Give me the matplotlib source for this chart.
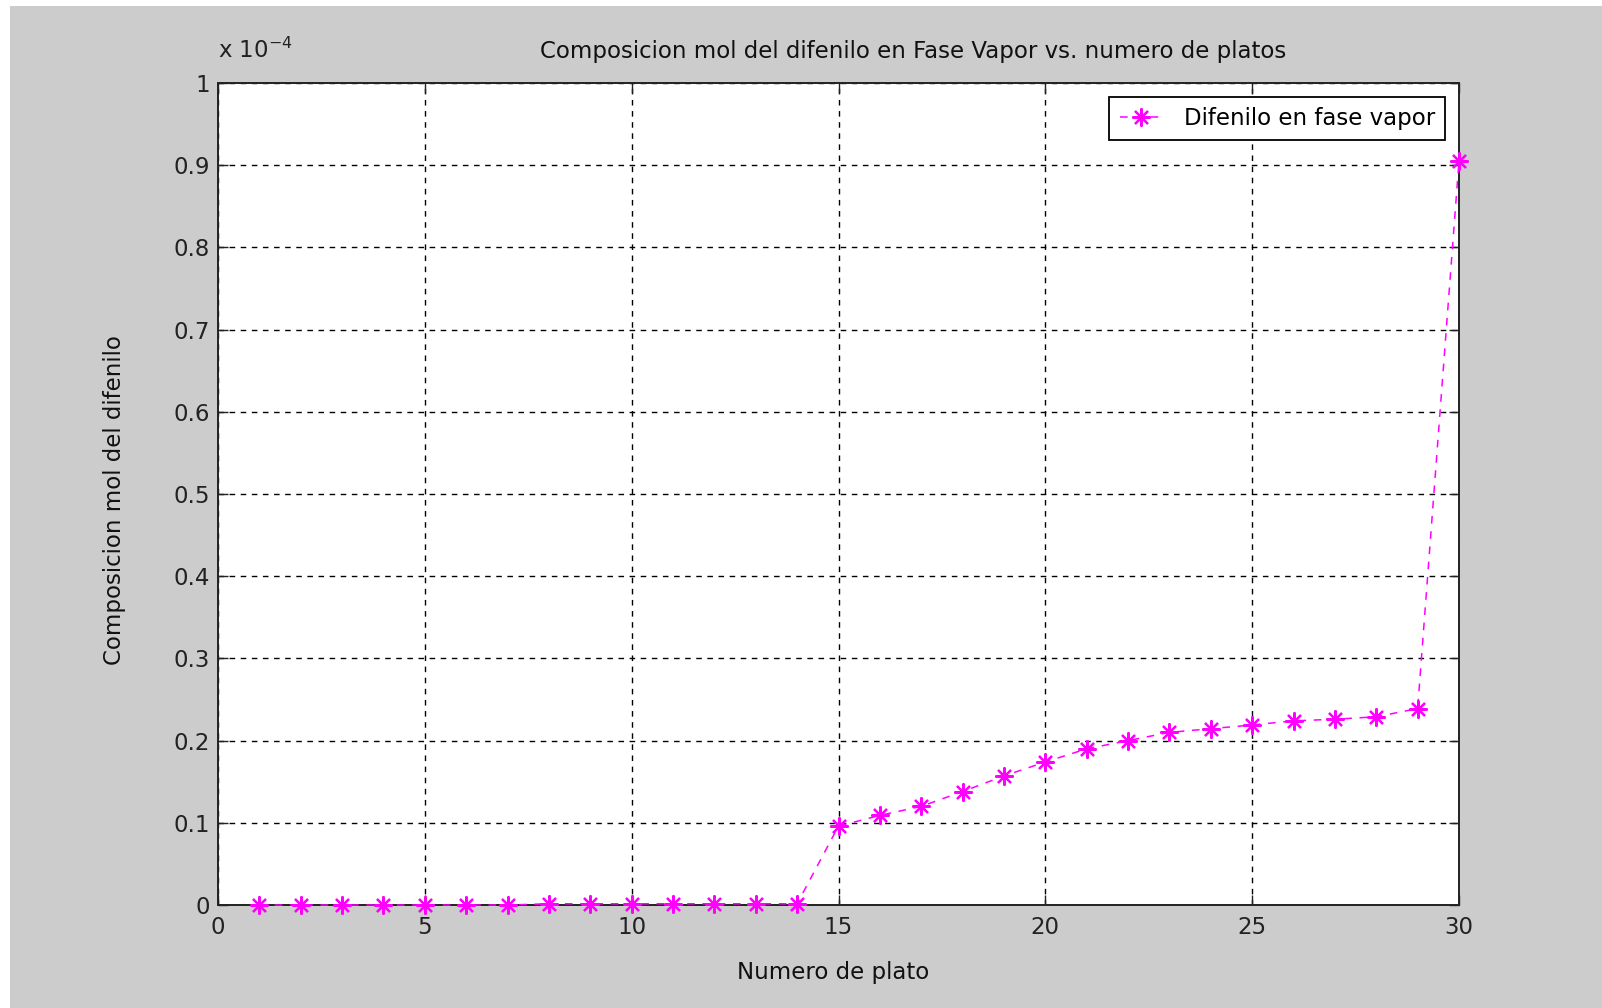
import matplotlib.pyplot as plt
from matplotlib.patches import Rectangle

plt.rcParams['font.family'] = ['DejaVu Sans']
plt.rcParams['mathtext.default'] = 'regular'

# Datos (en unidades de 1e-4)
platos = list(range(1, 31))
difenilo_vapor = [0.0, 0.0, 0.0, 0.0, 0.0, 0.0, 0.0,
                  0.0015, 0.0015, 0.0015, 0.0015, 0.0015, 0.0015, 0.0015,
                  0.096, 0.109, 0.120, 0.138, 0.157, 0.174, 0.190,
                  0.200, 0.210, 0.2145, 0.219, 0.224, 0.226, 0.229, 0.239,
                  0.905]
xticks = [0, 5, 10, 15, 20, 25, 30]
yticks = [0, 0.1, 0.2, 0.3, 0.4, 0.5, 0.6, 0.7, 0.8, 0.9, 1]
ytick_labels = ["0", "0.1", "0.2", "0.3", "0.4", "0.5", "0.6", "0.7", "0.8", "0.9", "1"]

W, H = 1602, 1008
fs = 16.5
fig = plt.figure(figsize=(W / 100, H / 100), dpi=100, facecolor="white")
# fondo gris de la ventana
fig.patches.append(Rectangle((10 / W, 0), 1, 1 - 6 / H, transform=fig.transFigure,
                             facecolor="#cccccc", edgecolor="none", zorder=-10))

ax = fig.add_axes([218 / W, 1 - 905 / H, (1459 - 218) / W, (905 - 83) / H])
ax.set_facecolor("white")

ax.plot(platos, difenilo_vapor, color="#ff00ff", linestyle="--", dashes=(5, 5),
        linewidth=1.1, marker=(8, 2, 0), markersize=13, markeredgewidth=1.6,
        label="Difenilo en fase vapor", clip_on=False, zorder=3)

ax.set_xlim(0, 30)
ax.set_ylim(0, 1)
ax.set_xticks(xticks)
ax.set_yticks(yticks)
ax.set_yticklabels(ytick_labels)
ax.tick_params(direction="in", length=7, width=1, top=True, right=True,
               labelsize=fs, colors="#222222", pad=8)
ax.tick_params(axis="y", pad=6)
for s in ax.spines.values():
    s.set_linewidth(1.4)
    s.set_color("#222222")
ax.grid(True, color="black", linestyle="--", dashes=(4, 4), linewidth=1.0)

ax.set_title("Composicion mol del difenilo en Fase Vapor vs. numero de platos",
             fontsize=fs, color="#111111", x=0.56, pad=18)
ax.set_xlabel("Numero de plato", fontsize=fs, color="#111111")
ax.xaxis.set_label_coords(0.496, -0.068)
ax.set_ylabel("Composicion mol del difenilo", fontsize=fs, color="#111111")
ax.yaxis.set_label_coords(-0.074, 0.493)
ax.text(0.0, 1.024, r"x 10$^{-4}$", transform=ax.transAxes, fontsize=fs,
        color="#222222", ha="left", va="bottom")

leg = ax.legend(loc="upper right", fontsize=fs, handlelength=1.9, fancybox=False,
                framealpha=1, edgecolor="black", borderaxespad=0.6,
                borderpad=0.45, handletextpad=0.9)
leg.get_frame().set_linewidth(1.3)

fig.savefig("out.png", dpi=100, facecolor=fig.get_facecolor())
